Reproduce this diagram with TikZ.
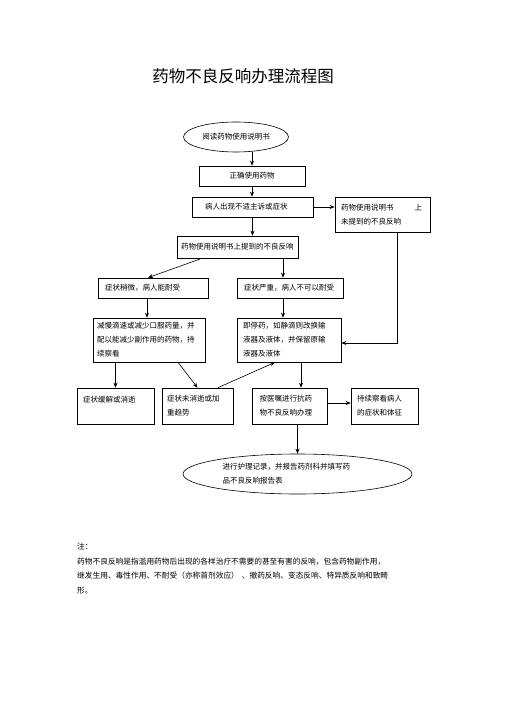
\documentclass[tikz,border=0pt]{standalone}
\usepackage{fontspec}
\newfontfamily\cjk{Noto Sans CJK SC}
\usetikzlibrary{arrows.meta, shapes.geometric, positioning, calc}

\begin{document}
\begin{tikzpicture}[x=1pt, y=-1pt,
        box/.style={draw, line width=0.6pt, inner sep=0pt, align=left,
                    font=\cjk\fontsize{7.5}{14}\selectfont},
        oval/.style={draw, ellipse, line width=0.6pt, inner sep=0pt, align=left,
                    font=\cjk\fontsize{7.5}{14}\selectfont},
        arr/.style={-{Stealth[length=5pt, width=4pt]}, line width=0.6pt}
      ]
        \useasboundingbox (0,0) rectangle (505,714);

        \node[font=\cjk\fontsize{16.5}{20}\selectfont] (title) at (243,76) {药物不良反响办理流程图};

        % top chain
        \node[oval, minimum width=105, minimum height=30] (read) at (236,137) {阅读药物使用说明书};
        \node[box, align=center, minimum width=106, minimum height=20] (use) at (252,176) {正确使用药物};
        \node[box, minimum width=121, minimum height=20, text width=95] (sick) at (252.5,207) {病人出现不适主诉或症状};
        \node[box, minimum width=95, minimum height=35, text width=83] (unmention) at (382.5,214.5)
          {药物使用说明书\hspace{21pt}上\\未提到的不良反响};
        \node[box, minimum width=121, minimum height=22, text width=113] (mention) at (237.5,247) {药物使用说明书上提到的不良反响};

        % two branches
        \node[box, minimum width=110, minimum height=20, text width=96] (mild) at (153,288) {症状稍微，病人能耐受};
        \node[box, minimum width=106, minimum height=20, text width=92] (severe) at (290,288) {症状严重，病人不可以耐受};
        \node[box, minimum width=112, minimum height=44, text width=104] (slow) at (149,340)
          {减慢滴速或减少口服药量，并\\配以能减少副作用的药物，持\\续察看};
        \node[box, minimum width=104, minimum height=44, text width=92] (stop) at (289,340)
          {即停药，如静滴则改换输\\液器及液体，并保留原输\\液器及液体};

        % bottom row
        \node[box, minimum width=77, minimum height=36, text width=65] (relief) at (115.5,406) {症状缓解或消逝\\\mbox{}};
        \node[box, minimum width=71, minimum height=36, text width=61] (worse) at (197.5,406) {症状未消逝或加\\重趋势};
        \node[box, minimum width=75, minimum height=36, text width=61] (treat) at (290,406) {按医嘱进行抗药\\物不良反响办理};
        \node[box, minimum width=67, minimum height=36, text width=55] (watch) at (384.5,406) {持续察看病人\\的症状和体征};
        \node[oval, minimum width=229, minimum height=40, text width=150] (record) at (297.5,474)
          {进行护理记录，并报告药剂科并填写药\\品不良反响报告表};

        \node[anchor=north west, align=left, inner sep=0pt,
              font=\cjk\fontsize{7.7}{14.5}\selectfont] (note) at (77,543)
          {注：\\药物不良反响是指滥用药物后出现的各样治疗不需要的甚至有害的反响，包含药物副作用，\\
           继发生用、毒性作用、不耐受（亦称首剂效应）\hspace{3pt}、撤药反响、变态反响、特异质反响和致畸\\形。};

        \draw[arr] (read.south -| use.north) -- (use.north);
        \draw[arr] (use.south) -- (use.south |- sick.north);
        \draw[arr] (sick.east) -- (sick.east -| unmention.west);
        \draw[arr] (sick.south) -- (sick.south |- mention.north);
        \draw[arr] ([xshift=-35.5]mention.south) -- ([xshift=-5]mild.north);
        \draw[arr] ([xshift=-7]severe.north |- mention.south) -- ([xshift=-7]severe.north);
        \draw[arr] ([xshift=-6]mild.south) -- ([xshift=-6]mild.south |- slow.north);
        \draw[arr] ([xshift=-7]severe.south) -- ([xshift=-7]severe.south |- stop.north);
        \draw[arr] ([xshift=14.5]unmention.south) |- ([yshift=-3]stop.east);
        \draw[arr] (relief.north |- slow.south) -- (relief.north);
        \draw[arr] ([xshift=29]slow.south) -- (worse.north);
        \draw[arr] ([xshift=20.5]worse.north) -- ([xshift=-14]stop.south);
        \draw[arr] ([xshift=12]stop.south) -- ([xshift=11]treat.north);
        \draw[arr] ([yshift=3]treat.east) -- ([yshift=3]treat.east -| watch.west);
        \draw[arr] (record.north |- treat.south) -- (record.north);
      \end{tikzpicture}
\end{document}
